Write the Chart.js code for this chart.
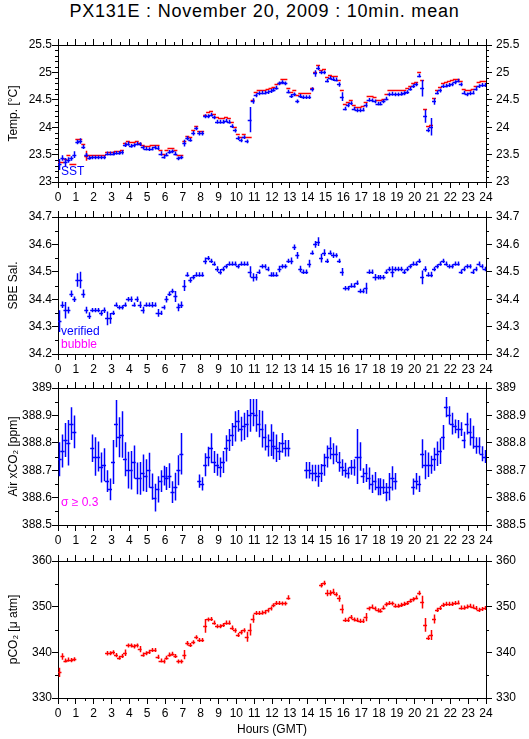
<!DOCTYPE html>
<html>
<head>
<meta charset="utf-8">
<script src="https://cdn.jsdelivr.net/npm/chart.js@4.4.1/dist/chart.umd.min.js"></script>
<style>
  body { margin: 0; width: 529px; height: 739px; background: #fff; position: relative; overflow: hidden;
         font-family: "Liberation Sans", Arial, sans-serif; }
  #title { position: absolute; left: 0; top: 1px; width: 529px; text-align: center; font-size: 18px;
           letter-spacing: 0.8px; color: #000; }
  canvas { position: absolute; left: 0; }
</style>
</head>
<body>
<div id="title">PX131E : November 20, 2009 : 10min. mean</div>
<canvas id="temp" width="529" height="177" style="top:33px"></canvas>
<canvas id="sal" width="529" height="177" style="top:205px"></canvas>
<canvas id="air" width="529" height="177" style="top:376px"></canvas>
<canvas id="pco2" width="529" height="190" style="top:549px"></canvas>
<script>
// 10 minute slots, centre of each slot in hours
const hours = Array.from({length: 144}, (_, i) => (i + 0.5) / 6);
const HALF_SLOT = 1 / 12;

// SST (blue)
const sst = [
  23.32, 23.44, 23.36, 23.40, 23.43, 23.50,
  23.73, 23.75, 23.64, 23.49, 23.44, 23.45,
  23.45, 23.45, 23.45, 23.45, 23.52, 23.52,
  23.52, 23.53, 23.53, 23.54, 23.68, 23.70,
  23.66, 23.67, 23.70, 23.69, 23.63, 23.61,
  23.60, 23.61, 23.63, 23.62, 23.52, 23.46,
  23.50, 23.55, 23.56, 23.52, 23.43, 23.45,
  23.71, 23.80, 23.77, 23.89, 23.98, 23.89,
  23.89, 24.20, 24.20, 24.23, 24.18, 24.10,
  24.10, 24.10, 24.12, 24.10, 24.02, 23.94,
  23.80, 23.76, 23.82, 23.74, 24.14, 24.48,
  24.58, 24.62, 24.63, 24.63, 24.64, 24.66,
  24.68, 24.72, 24.80, 24.82, 24.80, 24.65,
  24.57, 24.60, 24.47, 24.57, 24.55, 24.55,
  24.55, 24.69, 24.98, 25.08, 25.00, 25.00,
  24.85, 24.90, 24.88, 24.87, 24.78, 24.56,
  24.34, 24.40, 24.44, 24.34, 24.31, 24.31,
  24.32, 24.40, 24.50, 24.49, 24.47, 24.43,
  24.43, 24.47, 24.52, 24.60, 24.61, 24.60,
  24.60, 24.61, 24.62, 24.64, 24.70, 24.75,
  24.78, 24.94, 24.71, 24.20, 23.95, 24.01,
  24.47, 24.63, 24.67, 24.75, 24.76, 24.77,
  24.78, 24.82, 24.85, 24.78, 24.63, 24.60,
  24.62, 24.63, 24.70, 24.75, 24.77, 24.77
];
const sstErr = [
  0.10, 0.05, 0.08, 0.05, 0.04, 0.06,
  0.04, 0.05, 0.04, 0.04, 0.035, 0.035,
  0.035, 0.035, 0.035, 0.035, 0.035, 0.035,
  0.035, 0.035, 0.035, 0.04, 0.04, 0.04,
  0.035, 0.035, 0.035, 0.035, 0.035, 0.035,
  0.035, 0.035, 0.035, 0.035, 0.04, 0.035,
  0.035, 0.035, 0.035, 0.035, 0.035, 0.035,
  0.06, 0.04, 0.035, 0.04, 0.035, 0.04,
  0.04, 0.035, 0.035, 0.035, 0.035, 0.035,
  0.035, 0.035, 0.035, 0.035, 0.035, 0.035,
  0.035, 0.035, 0.035, 0.035, 0.23, 0.05,
  0.035, 0.035, 0.035, 0.035, 0.035, 0.035,
  0.035, 0.035, 0.035, 0.035, 0.035, 0.035,
  0.035, 0.035, 0.035, 0.035, 0.035, 0.035,
  0.035, 0.04, 0.06, 0.04, 0.035, 0.035,
  0.035, 0.035, 0.035, 0.035, 0.04, 0.08,
  0.035, 0.035, 0.035, 0.035, 0.035, 0.035,
  0.035, 0.04, 0.035, 0.035, 0.035, 0.035,
  0.035, 0.035, 0.035, 0.035, 0.035, 0.035,
  0.035, 0.035, 0.035, 0.035, 0.035, 0.035,
  0.035, 0.035, 0.15, 0.12, 0.04, 0.16,
  0.06, 0.035, 0.035, 0.035, 0.035, 0.035,
  0.035, 0.035, 0.035, 0.035, 0.035, 0.035,
  0.035, 0.035, 0.035, 0.035, 0.035, 0.035
];

// equilibrator temperature (red)
const teq = [
  23.37, 23.37, 23.42, 23.50, 23.33, 23.33,
  23.78, 23.78, 23.70, 23.48, 23.50, 23.50,
  23.50, 23.50, 23.50, 23.50, 23.55, 23.55,
  23.55, 23.56, 23.57, 23.58, 23.72, 23.75,
  23.73, 23.73, 23.74, 23.72, 23.68, 23.66,
  23.66, 23.67, 23.68, 23.68, 23.58, 23.52,
  23.58, 23.62, 23.62, 23.58, 23.50, 23.50,
  23.74, 23.84, 23.83, 23.95, 24.03, 23.93,
  23.93, 24.22, 24.28, 24.29, 24.24, 24.18,
  24.16, 24.17, 24.18, 24.16, 24.10, 24.00,
  23.87, 23.82, 23.88, 23.82, 23.82, 24.50,
  24.64, 24.68, 24.68, 24.68, 24.70, 24.72,
  24.74, 24.78, 24.80, 24.88, 24.88, 24.72,
  24.65, 24.67, 24.58, 24.62, 24.62, 24.62,
  24.62, 24.72, 25.00, 25.14, 25.05, 25.07,
  24.92, 24.95, 24.94, 24.93, 24.87, 24.67,
  24.42, 24.46, 24.50, 24.40, 24.37, 24.37,
  24.39, 24.46, 24.57, 24.57, 24.55, 24.50,
  24.50, 24.52, 24.60, 24.67, 24.67, 24.67,
  24.67, 24.67, 24.68, 24.71, 24.76, 24.81,
  24.83, 25.00, 24.87, 24.33, 24.03, 24.04,
  24.53, 24.68, 24.74, 24.80, 24.82, 24.84,
  24.86, 24.88, 24.88, 24.85, 24.70, 24.67,
  24.68, 24.70, 24.76, 24.83, 24.85, 24.84
];
const teqErr = [
  0, 0, 0, 0, 0, 0,
  0, 0, 0, 0.09, 0, 0,
  0, 0, 0, 0, 0, 0,
  0, 0, 0, 0, 0, 0,
  0, 0, 0, 0, 0, 0,
  0, 0, 0, 0, 0, 0,
  0, 0, 0, 0, 0, 0,
  0, 0, 0, 0, 0, 0,
  0, 0, 0, 0, 0, 0,
  0, 0, 0, 0, 0, 0,
  0, 0, 0, 0, 0, 0,
  0, 0, 0, 0, 0, 0,
  0, 0, 0, 0, 0, 0,
  0, 0, 0, 0, 0, 0,
  0, 0, 0, 0, 0, 0,
  0, 0, 0, 0, 0, 0,
  0, 0, 0, 0, 0, 0,
  0, 0, 0, 0, 0, 0,
  0, 0, 0, 0, 0, 0,
  0, 0, 0, 0, 0, 0,
  0, 0, 0, 0, 0, 0,
  0, 0, 0, 0, 0, 0,
  0, 0, 0, 0, 0, 0,
  0, 0, 0, 0, 0, 0
];

// SBE salinity (blue)
const sal = [
  34.32, 34.38, 34.36, 34.36, 34.42, 34.40,
  34.47, 34.47, 34.42, 34.36, 34.34, 34.36,
  34.36, 34.36, 34.35, 34.36, 34.33, 34.33,
  34.35, 34.38, 34.37, 34.37, 34.38, 34.40,
  34.40, 34.38, 34.40, 34.38, 34.36, 34.38,
  34.38, 34.38, 34.38, 34.35, 34.35, 34.37,
  34.40, 34.42, 34.43, 34.41, 34.37, 34.38,
  34.45, 34.49, 34.47, 34.48, 34.49, 34.49,
  34.49, 34.54, 34.55, 34.54, 34.53, 34.51,
  34.50, 34.51, 34.52, 34.53, 34.53, 34.53,
  34.52, 34.53, 34.53, 34.53, 34.50, 34.48,
  34.48, 34.50, 34.52, 34.52, 34.51, 34.49,
  34.49, 34.49, 34.51, 34.52, 34.52, 34.54,
  34.54, 34.59, 34.56, 34.51, 34.50, 34.50,
  34.53, 34.57, 34.60, 34.61, 34.55, 34.57,
  34.54, 34.57, 34.56, 34.56, 34.54, 34.50,
  34.44, 34.44, 34.45, 34.45, 34.46, 34.43,
  34.43, 34.44, 34.50, 34.50, 34.48, 34.48,
  34.48, 34.48, 34.50, 34.51, 34.50, 34.51,
  34.51, 34.51, 34.50, 34.51, 34.52, 34.53,
  34.53, 34.54, 34.48, 34.51, 34.49, 34.49,
  34.51, 34.52, 34.53, 34.54, 34.53, 34.52,
  34.52, 34.53, 34.53, 34.50, 34.51, 34.52,
  34.52, 34.50, 34.51, 34.53, 34.52, 34.51
];
const salErr = [
  0.040, 0.012, 0.030, 0.012, 0.012, 0.010,
  0.025, 0.030, 0.015, 0.012, 0.012, 0.008,
  0.008, 0.008, 0.010, 0.010, 0.025, 0.020,
  0.008, 0.008, 0.008, 0.008, 0.008, 0.008,
  0.010, 0.008, 0.010, 0.012, 0.012, 0.008,
  0.008, 0.010, 0.008, 0.014, 0.008, 0.008,
  0.012, 0.008, 0.008, 0.020, 0.014, 0.012,
  0.020, 0.008, 0.010, 0.008, 0.008, 0.008,
  0.008, 0.012, 0.008, 0.008, 0.008, 0.010,
  0.010, 0.008, 0.008, 0.008, 0.008, 0.008,
  0.008, 0.008, 0.008, 0.008, 0.020, 0.015,
  0.012, 0.008, 0.008, 0.008, 0.008, 0.008,
  0.008, 0.008, 0.012, 0.008, 0.008, 0.008,
  0.012, 0.010, 0.012, 0.012, 0.008, 0.008,
  0.014, 0.008, 0.012, 0.016, 0.016, 0.012,
  0.008, 0.008, 0.010, 0.008, 0.008, 0.014,
  0.008, 0.008, 0.008, 0.008, 0.008, 0.008,
  0.008, 0.020, 0.008, 0.008, 0.012, 0.008,
  0.008, 0.008, 0.008, 0.008, 0.020, 0.008,
  0.008, 0.008, 0.008, 0.008, 0.008, 0.008,
  0.008, 0.008, 0.025, 0.010, 0.008, 0.010,
  0.008, 0.008, 0.008, 0.008, 0.008, 0.008,
  0.008, 0.008, 0.008, 0.008, 0.008, 0.008,
  0.008, 0.008, 0.008, 0.008, 0.008, 0.008
];

// Air xCO2 (blue), gaps where sigma >= 0.3
const airCo2 = [
  388.74, 388.77, 388.81, 388.80, 388.87, 388.84,
  null, null, null, null, null, 388.78,
  388.75, 388.75, 388.71, 388.72, 388.66, 388.63,
  388.73, 388.87, 388.82, 388.83, 388.74, 388.70,
  388.70, 388.73, 388.67, 388.67, 388.69, 388.68,
  388.70, 388.64, 388.60, 388.63, 388.66, 388.68,
  388.67, 388.68, 388.62, 388.64, 388.70, 388.76,
  null, null, null, null, null, 388.66,
  388.65, 388.72, 388.75, 388.78, 388.73, 388.72,
  388.71, 388.73, 388.78, 388.81, 388.83, 388.86,
  388.88, 388.85, 388.86, 388.87, 388.90, 388.91,
  388.90, 388.87, 388.85, 388.82, 388.79, 388.81,
  388.79, 388.78, 388.77, 388.80, 388.78, 388.78,
  null, null, null, null, null, 388.70,
  388.70, 388.69, 388.69, 388.68, 388.69, 388.72,
  388.75, 388.78, 388.76, 388.76, 388.73, 388.71,
  388.70, 388.69, 388.71, 388.71, 388.75, 388.75,
  388.68, 388.69, 388.67, 388.65, 388.66, 388.64,
  388.64, 388.64, 388.62, 388.64, 388.67, 388.66,
  null, null, null, null, null, 388.64,
  388.66, 388.65, 388.76, 388.72, 388.72, 388.72,
  388.74, 388.76, 388.77, 388.82, 388.93, 388.90,
  388.87, 388.86, 388.85, 388.85, 388.81, 388.87,
  388.84, 388.82, 388.79, 388.79, 388.76, 388.75
];
const airErr = [
  0.062, 0.060, 0.062, 0.083, 0.060, 0.060,
  0, 0, 0, 0, 0, 0.050,
  0.070, 0.055, 0.055, 0.060, 0.040, 0.040,
  0.080, 0.086, 0.073, 0.085, 0.062, 0.067,
  0.070, 0.060, 0.058, 0.060, 0.067, 0.060,
  0.064, 0.048, 0.051, 0.048, 0.040, 0.036,
  0.042, 0.045, 0.040, 0.051, 0.055, 0.076,
  0, 0, 0, 0, 0, 0.024,
  0.024, 0.042, 0.036, 0.055, 0.040, 0.040,
  0.036, 0.040, 0.048, 0.040, 0.042, 0.055,
  0.040, 0.045, 0.050, 0.050, 0.060, 0.050,
  0.060, 0.050, 0.067, 0.048, 0.040, 0.058,
  0.050, 0.050, 0.033, 0.036, 0.030, 0.030,
  0, 0, 0, 0, 0, 0.030,
  0.030, 0.030, 0.030, 0.040, 0.033, 0.040,
  0.040, 0.040, 0.038, 0.030, 0.036, 0.030,
  0.027, 0.020, 0.027, 0.030, 0.100, 0.052,
  0.027, 0.033, 0.040, 0.033, 0.033, 0.031,
  0.031, 0.027, 0.033, 0.050, 0.044, 0.030,
  0, 0, 0, 0, 0, 0.030,
  0.030, 0.030, 0.053, 0.053, 0.045, 0.033,
  0.042, 0.045, 0.047, 0.045, 0.037, 0.033,
  0.040, 0.025, 0.033, 0.025, 0.030, 0.040,
  0.050, 0.042, 0.030, 0.030, 0.027, 0.024
];

// pCO2 (red)
const pco2 = [
  335.6, 339.1, 338.2, 338.4, 338.3, 338.5,
  null, null, null, null, null, null,
  null, null, null, null, 339.8, 339.8,
  340.0, 339.4, 338.8, 339.2, 339.9, 341.5,
  341.5, 341.3, 341.5, 340.7, 339.5, 339.8,
  340.1, 340.5, 340.5, 339.0, 338.2, 338.0,
  338.8, 339.5, 339.7, 339.2, 338.0, 338.0,
  339.5, 342.0, 341.6, 342.2, 343.3, 342.7,
  342.7, 345.8, 347.2, 347.3, 346.5, 345.7,
  345.7, 346.0, 346.5, 346.5, 345.4, 344.8,
  343.8, 344.4, 344.8, 343.4, 345.0, 347.4,
  348.6, 348.6, 348.7, 348.8, 349.2, 349.6,
  350.3, 350.8, 350.8, 350.7, 350.7, 352.0,
  null, null, null, null, null, null,
  null, null, null, null, 354.7, 355.2,
  353.0, 353.0, 353.3, 352.7, 351.8, 349.5,
  347.1, 347.1, 347.7, 347.2, 347.1, 346.9,
  346.9, 347.7, 349.6, 350.0, 349.6, 349.2,
  349.1, 349.8, 350.5, 350.8, 350.7, 350.2,
  350.2, 350.4, 350.6, 350.8, 351.3, 351.6,
  352.0, 353.0, 351.0, 346.0, 343.2, 343.8,
  347.3, 349.3, 349.7, 350.4, 350.6, 350.6,
  350.6, 350.8, 350.9, 349.8, 349.8, 350.0,
  350.2, 350.0, 349.7, 349.3, 349.5, 349.7
];
const pco2Err = [
  1.0, 0.7, 0.45, 0.45, 0.45, 0.45,
  0, 0, 0, 0, 0, 0,
  0, 0, 0, 0, 0.5, 0.45,
  0.45, 0.45, 0.45, 0.45, 0.7, 0.45,
  0.45, 0.45, 0.45, 0.7, 0.45, 0.45,
  0.45, 0.45, 0.45, 0.45, 0.45, 0.45,
  0.45, 0.45, 0.45, 0.45, 0.45, 0.45,
  1.0, 0.5, 0.45, 0.45, 0.45, 0.45,
  0.45, 1.5, 0.45, 0.45, 0.45, 0.45,
  0.45, 0.45, 0.45, 0.45, 0.5, 0.5,
  0.45, 0.5, 0.45, 1.1, 1.3, 0.9,
  0.45, 0.45, 0.45, 0.45, 0.45, 0.45,
  0.45, 0.45, 0.45, 0.45, 0.45, 0.5,
  0, 0, 0, 0, 0, 0,
  0, 0, 0, 0, 0.5, 0.5,
  0.7, 0.6, 0.6, 0.45, 0.7, 1.0,
  0.45, 0.45, 0.45, 0.45, 0.45, 0.45,
  0.45, 0.9, 0.45, 0.45, 0.45, 0.45,
  0.45, 0.45, 0.45, 0.45, 0.45, 0.45,
  0.45, 0.45, 0.45, 0.45, 0.45, 0.45,
  0.45, 0.5, 1.4, 1.5, 0.5, 1.1,
  1.0, 0.45, 0.45, 0.45, 0.45, 0.45,
  0.45, 0.45, 0.45, 0.45, 0.45, 0.45,
  0.45, 0.45, 0.45, 0.45, 0.45, 0.45
];

const FONT = '"Liberation Sans", Arial, sans-serif';
const BLUE = '#0000ff', RED = '#ff0000', MAGENTA = '#ff00ff';

// each 10 min mean drawn as a cross: slot width across, +/- sigma up and down
const crossPlugin = {
  id: 'crosses',
  afterDatasetsDraw(chart) {
    const {ctx, chartArea: a, scales: {x, y}} = chart;
    ctx.save();
    ctx.beginPath();
    ctx.rect(a.left, a.top, a.right - a.left, a.bottom - a.top);
    ctx.clip();
    chart.data.datasets.forEach(ds => {
      ctx.strokeStyle = ds.borderColor;
      ctx.lineWidth = 1.5;
      ctx.beginPath();
      ds.data.forEach((p, i) => {
        if (p.y == null) return;
        const px = Math.round(x.getPixelForValue(p.x)) + 0.5;
        const py = Math.round(y.getPixelForValue(p.y)) + 0.5;
        ctx.moveTo(x.getPixelForValue(p.x - HALF_SLOT) - 0.5, py);
        ctx.lineTo(x.getPixelForValue(p.x + HALF_SLOT) + 0.5, py);
        const e = ds.errors[i] || 0;
        if (e > 0) {
          ctx.moveTo(px, y.getPixelForValue(p.y + e));
          ctx.lineTo(px, y.getPixelForValue(p.y - e));
        }
      });
      ctx.stroke();
    });
    ctx.restore();
  }
};

// short ticks between the labelled ones, on all four sides
const minorPlugin = {
  id: 'minorTicks',
  afterDraw(chart) {
    const {ctx, chartArea: a, scales: {x, y}} = chart;
    const m = chart.options.plugins.minorTicks;
    ctx.save();
    ctx.strokeStyle = '#000';
    ctx.lineWidth = 1;
    ctx.beginPath();
    const nx = Math.round((x.max - x.min) / m.x);
    for (let i = 1; i < nx; i++) {
      if (i % Math.round(1 / m.x) === 0) continue;
      const px = Math.round(x.getPixelForValue(x.min + i * m.x)) + 0.5;
      ctx.moveTo(px, a.top - 3); ctx.lineTo(px, a.top);
      ctx.moveTo(px, a.bottom); ctx.lineTo(px, a.bottom + 3);
    }
    const ny = Math.round((y.max - y.min) / m.y);
    const per = Math.round(m.step / m.y);
    for (let i = 1; i < ny; i++) {
      if (i % per === 0) continue;
      const py = Math.round(y.getPixelForValue(y.min + i * m.y)) + 0.5;
      ctx.moveTo(a.left - 3, py); ctx.lineTo(a.left, py);
      ctx.moveTo(a.right, py); ctx.lineTo(a.right + 3, py);
    }
    ctx.stroke();
    ctx.restore();
  }
};

const notePlugin = {
  id: 'notes',
  afterDraw(chart) {
    const {ctx, chartArea: a} = chart;
    ctx.save();
    ctx.font = '12px ' + FONT;
    ctx.textBaseline = 'middle';
    ctx.textAlign = 'left';
    (chart.options.plugins.notes || []).forEach(n => {
      ctx.fillStyle = n.color;
      ctx.fillText(n.text, a.left + 3, a.bottom - n.up);
    });
    ctx.restore();
  }
};

function axis(position, min, max, step, labels, size, pad) {
  const horiz = position === 'top' || position === 'bottom';
  return {
    type: 'linear', position, min, max,
    ticks: { stepSize: step, display: labels, autoSkip: false, maxRotation: 0, color: '#000',
             font: { family: FONT, size: 12 }, padding: pad,
             callback: v => String(+v.toFixed(3)) },
    grid: { drawOnChartArea: false, drawTicks: true, tickLength: 6, color: '#000', lineWidth: 1 },
    border: { display: true, color: '#000', width: 1 },
    afterFit: s => { if (horiz) s.height = size; else s.width = size; }
  };
}

function panel(id, cfg) {
  const datasets = cfg.series.map(s => ({
    label: s.name,
    data: hours.map((h, i) => ({x: h, y: s.values[i]})),
    errors: s.errors,
    borderColor: s.color,
    pointRadius: 0,
    showLine: false
  }));
  const x = axis('bottom', 0, 24, 1, true, cfg.bottom, 2);
  if (cfg.xTitle) {
    x.title = { display: true, text: cfg.xTitle, color: '#000', font: { family: FONT, size: 12 },
                padding: { top: 0, bottom: 2 } };
  }
  const y = axis('left', cfg.min, cfg.max, cfg.step, true, 58, 0);
  y.title = { display: true, text: cfg.yTitle, color: '#000', font: { family: FONT, size: 12 },
              padding: { top: 6, bottom: 0 } };
  new Chart(document.getElementById(id), {
    type: 'scatter',
    data: { datasets },
    options: {
      responsive: false,
      animation: false,
      layout: { padding: 0 },
      plugins: {
        legend: { display: false },
        tooltip: { enabled: false },
        minorTicks: { x: 0.5, y: cfg.minor, step: cfg.step },
        notes: cfg.notes
      },
      scales: {
        x,
        xTop: axis('top', 0, 24, 1, false, 12, 0),
        y,
        y2: axis('right', cfg.min, cfg.max, cfg.step, true, 43, 4)
      }
    },
    plugins: [crossPlugin, minorPlugin, notePlugin]
  });
}

panel('temp', {
  min: 23, max: 25.5, step: 0.5, minor: 0.1, bottom: 28, yTitle: 'Temp. [°C]',
  series: [
    { name: 'Teq', values: teq, errors: teqErr, color: RED },
    { name: 'SST', values: sst, errors: sstErr, color: BLUE }
  ],
  notes: [{ text: 'SST', color: BLUE, up: 10 }]
});

panel('sal', {
  min: 34.2, max: 34.7, step: 0.1, minor: 0.05, bottom: 28, yTitle: 'SBE Sal.',
  series: [{ name: 'SBE Sal.', values: sal, errors: salErr, color: BLUE }],
  notes: [{ text: 'verified', color: BLUE, up: 22 }, { text: 'bubble', color: MAGENTA, up: 9 }]
});

panel('air', {
  min: 388.5, max: 389, step: 0.1, minor: 0.05, bottom: 28, yTitle: 'Air xCO₂ [ppm]',
  series: [{ name: 'Air xCO2', values: airCo2, errors: airErr, color: BLUE }],
  notes: [{ text: 'σ ≥ 0.3', color: MAGENTA, up: 22 }]
});

panel('pco2', {
  min: 330, max: 360, step: 10, minor: 5, bottom: 41, yTitle: 'pCO₂ [μ atm]', xTitle: 'Hours (GMT)',
  series: [{ name: 'pCO2', values: pco2, errors: pco2Err, color: RED }],
  notes: []
});
</script>
</body>
</html>
